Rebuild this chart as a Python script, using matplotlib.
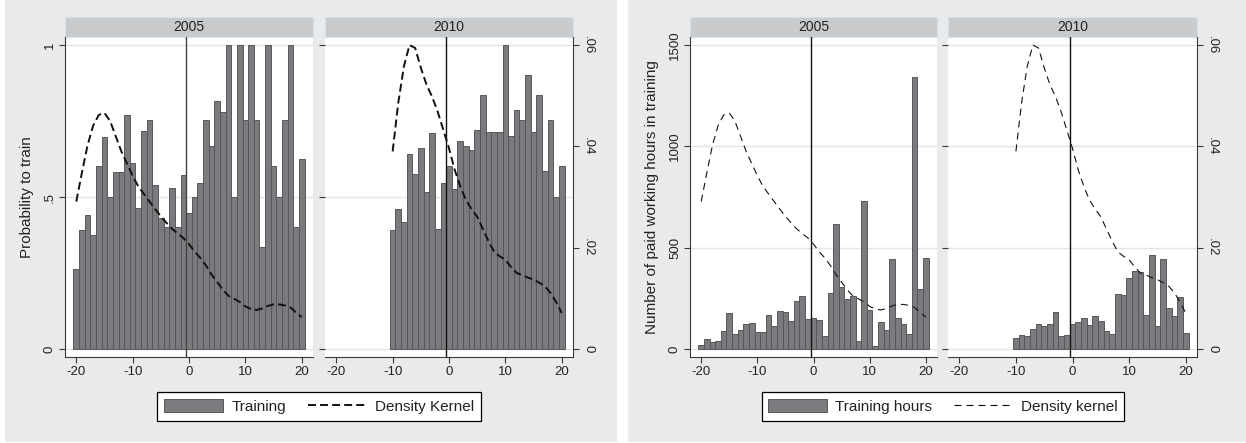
import matplotlib.pyplot as plt
import numpy as np
from matplotlib.patches import Rectangle, Patch
from matplotlib.lines import Line2D

plt.rcParams['font.family'] = ['Liberation Sans', 'DejaVu Sans']

W, H = 1246, 443

# data
years = ["2005", "2010"]
x_2005 = np.arange(-20, 21)
x_2010 = np.arange(-10, 21)

prob_2005 = [0.263, 0.391, 0.441, 0.375, 0.603, 0.697, 0.500, 0.581, 0.581, 0.770,
             0.612, 0.464, 0.717, 0.752, 0.539, 0.431, 0.402, 0.530, 0.402, 0.572,
             0.448, 0.500, 0.545, 0.753, 0.668, 0.817, 0.780, 1.000, 0.500, 1.000,
             0.753, 1.000, 0.753, 0.335, 1.000, 0.602, 0.500, 0.753, 1.000, 0.402, 0.626]
prob_2010 = [0.391, 0.460, 0.419, 0.641, 0.577, 0.661, 0.516, 0.711, 0.395, 0.546,
             0.603, 0.526, 0.684, 0.667, 0.654, 0.721, 0.836, 0.715, 0.715, 0.715,
             1.000, 0.700, 0.787, 0.752, 0.901, 0.715, 0.835, 0.586, 0.752, 0.500, 0.602]

hours_2005 = [21, 49, 33, 38, 89, 177, 76, 95, 123, 128, 82, 85, 168, 113, 187, 182, 138, 235, 260, 148,
              153, 143, 66, 276, 618, 306, 247, 260, 40, 728, 194, 16, 131, 95, 444, 153, 123, 76, 1341, 296, 448]
hours_2010 = [54, 71, 66, 99, 125, 112, 125, 182, 66, 69,
              125, 133, 153, 120, 164, 136, 90, 74, 273, 266, 350, 383, 378, 169, 465, 112, 444, 202, 161, 256, 79]

dens_2005 = [0.0291, 0.0348, 0.0402, 0.0441, 0.0462, 0.0466, 0.0450, 0.0420, 0.0390, 0.0366,
             0.0342, 0.0321, 0.0306, 0.0291, 0.0276, 0.0262, 0.0249, 0.0237, 0.0228, 0.0219,
             0.0207, 0.0192, 0.0180, 0.0165, 0.0147, 0.0132, 0.0117, 0.0105, 0.0099, 0.0093,
             0.0084, 0.0079, 0.0077, 0.0080, 0.0085, 0.0088, 0.0088, 0.0086, 0.0082, 0.0072, 0.0063]
dens_2010 = [0.0390, 0.0486, 0.0558, 0.0600, 0.0594, 0.0555, 0.0522, 0.0498, 0.0468, 0.0432,
             0.0396, 0.0354, 0.0321, 0.0294, 0.0276, 0.0261, 0.0237, 0.0213, 0.0192, 0.0183,
             0.0176, 0.0162, 0.0150, 0.0146, 0.0141, 0.0137, 0.0131, 0.0124, 0.0111, 0.0093, 0.0071]

xticks = [-20, -10, 0, 10, 20]
xticklabels = ["-20", "-10", "0", "10", "20"]
prob_ticks = [0, 0.5, 1]
prob_labels = ["0", ".5", "1"]
hours_ticks = [0, 500, 1000, 1500]
hours_labels = ["0", "500", "1000", "1500"]
dens_ticks = [0, 0.02, 0.04, 0.06]
dens_labels = ["0", ".02", ".04", ".06"]

bg = '#e9eaeb'
stripc = '#c9cacb'
barc = '#7b7b7f'
bare = '#58585b'
axc = '#3a3a3a'

fig = plt.figure(figsize=(W / 100, H / 100), dpi=100)
fig.patches.append(Rectangle((5 / W, 1 - 442 / H), 612 / W, 442 / H, transform=fig.transFigure,
                             facecolor=bg, edgecolor='none', zorder=-5))
fig.patches.append(Rectangle((628 / W, 1 - 442 / H), 618 / W, 442 / H, transform=fig.transFigure,
                             facecolor=bg, edgecolor='none', zorder=-5))


def facet(x0, x1, xs, bars, dens, year, ymax, yticks, ylabels, first, dash, lw, vcol):
    y0, y1 = 37, 357
    ax = fig.add_axes([x0 / W, 1 - y1 / H, (x1 - x0) / W, (y1 - y0) / H])
    m = 8 / 304
    ax.set_xlim(-22, 22)
    ax.set_ylim(-ymax * m, ymax * (1 + m))
    ax.bar(xs, bars, width=1, color=barc, edgecolor=bare, linewidth=0.7, zorder=2)
    ax.axvline(-0.5, color=vcol, lw=1.0, zorder=3)
    ax.set_yticks(yticks)
    ax.grid(axis='y', color='#e4e4e4', lw=1)
    ax.set_axisbelow(True)
    ax.set_xticks(xticks)
    ax.set_xticklabels(xticklabels, fontsize=9.5, color='#222')
    ax.tick_params(axis='both', direction='out', length=4, width=0.8, color=axc, pad=2.5)
    for s in ['top', 'right']:
        ax.spines[s].set_visible(False)
    ax.spines['bottom'].set_color(axc)
    ax.spines['left'].set_color(axc)
    if first:
        ax.set_yticklabels(ylabels, rotation=90, va='center', fontsize=9.5, color='#222')
    else:
        ax.spines['left'].set_visible(False)
        ax.tick_params(axis='y', left=False, labelleft=False)

    # strip header
    ax.add_patch(Rectangle((0, 1), 1, 20 / 320, transform=ax.transAxes, clip_on=False,
                           facecolor=stripc, edgecolor='#d5e0e8', lw=0.8))
    ax.text(0.5, 1 + 10 / 320, year, transform=ax.transAxes, ha='center', va='center',
            fontsize=10, color='#222')

    ax2 = ax.twinx()
    ax2.set_ylim(-0.06 * m, 0.06 * (1 + m))
    ax2.plot(xs, dens, color='#111', lw=lw, ls=(0, dash), zorder=4)
    for s in ['top', 'left', 'bottom']:
        ax2.spines[s].set_visible(False)
    if first:
        ax2.spines['right'].set_visible(False)
        ax2.tick_params(axis='y', right=False, labelright=False)
    else:
        ax2.spines['right'].set_color(axc)
        ax2.set_yticks(dens_ticks)
        ax2.set_yticklabels(dens_labels, rotation=270, va='center', fontsize=9.5, color='#222')
        ax2.tick_params(axis='y', direction='out', length=4, width=0.8, color=axc, pad=2.5)
    return ax


# left graph: probability to train
dl = (4.1, 2.1)
facet(65, 313, x_2005, prob_2005, dens_2005, years[0], 1, prob_ticks, prob_labels, True, dl, 1.4, '#444')
facet(325, 573, x_2010, prob_2010, dens_2010, years[1], 1, prob_ticks, prob_labels, False, dl, 1.4, '#111')
fig.text(27 / W, 1 - 197 / H, "Probability to train", rotation=90, ha='center', va='center',
         fontsize=11, color='#222')

# right graph: training hours
dr = (6.3, 4.5)
facet(690, 937, x_2005, hours_2005, dens_2005, years[0], 1500, hours_ticks, hours_labels, True, dr, 0.8, '#111')
facet(948, 1197, x_2010, hours_2010, dens_2010, years[1], 1500, hours_ticks, hours_labels, False, dr, 0.8, '#111')
fig.text(652 / W, 1 - 197 / H, "Number of paid working hours in training", rotation=90, ha='center',
         va='center', fontsize=11, color='#222')


def legend(cx, labels, dash, lw):
    handles = [Patch(facecolor=barc, edgecolor=bare, linewidth=0.7),
               Line2D([], [], color='#111', lw=lw, ls=(0, dash))]
    leg = fig.legend(handles, labels, loc='center', bbox_to_anchor=(cx / W, 1 - 406.5 / H), ncol=2,
                     frameon=True, fancybox=False, edgecolor='black', framealpha=1, fontsize=11,
                     handlelength=3.85, handleheight=0.95, handletextpad=0.52, columnspacing=1.44,
                     borderpad=0.45)
    leg.get_frame().set_linewidth(0.9)
    for t in leg.get_texts():
        t.set_color('#222')


legend(319, ["Training", "Density Kernel"], dl, 1.4)
legend(943, ["Training hours", "Density kernel"], dr, 0.8)

fig.savefig("out.png", dpi=100)
